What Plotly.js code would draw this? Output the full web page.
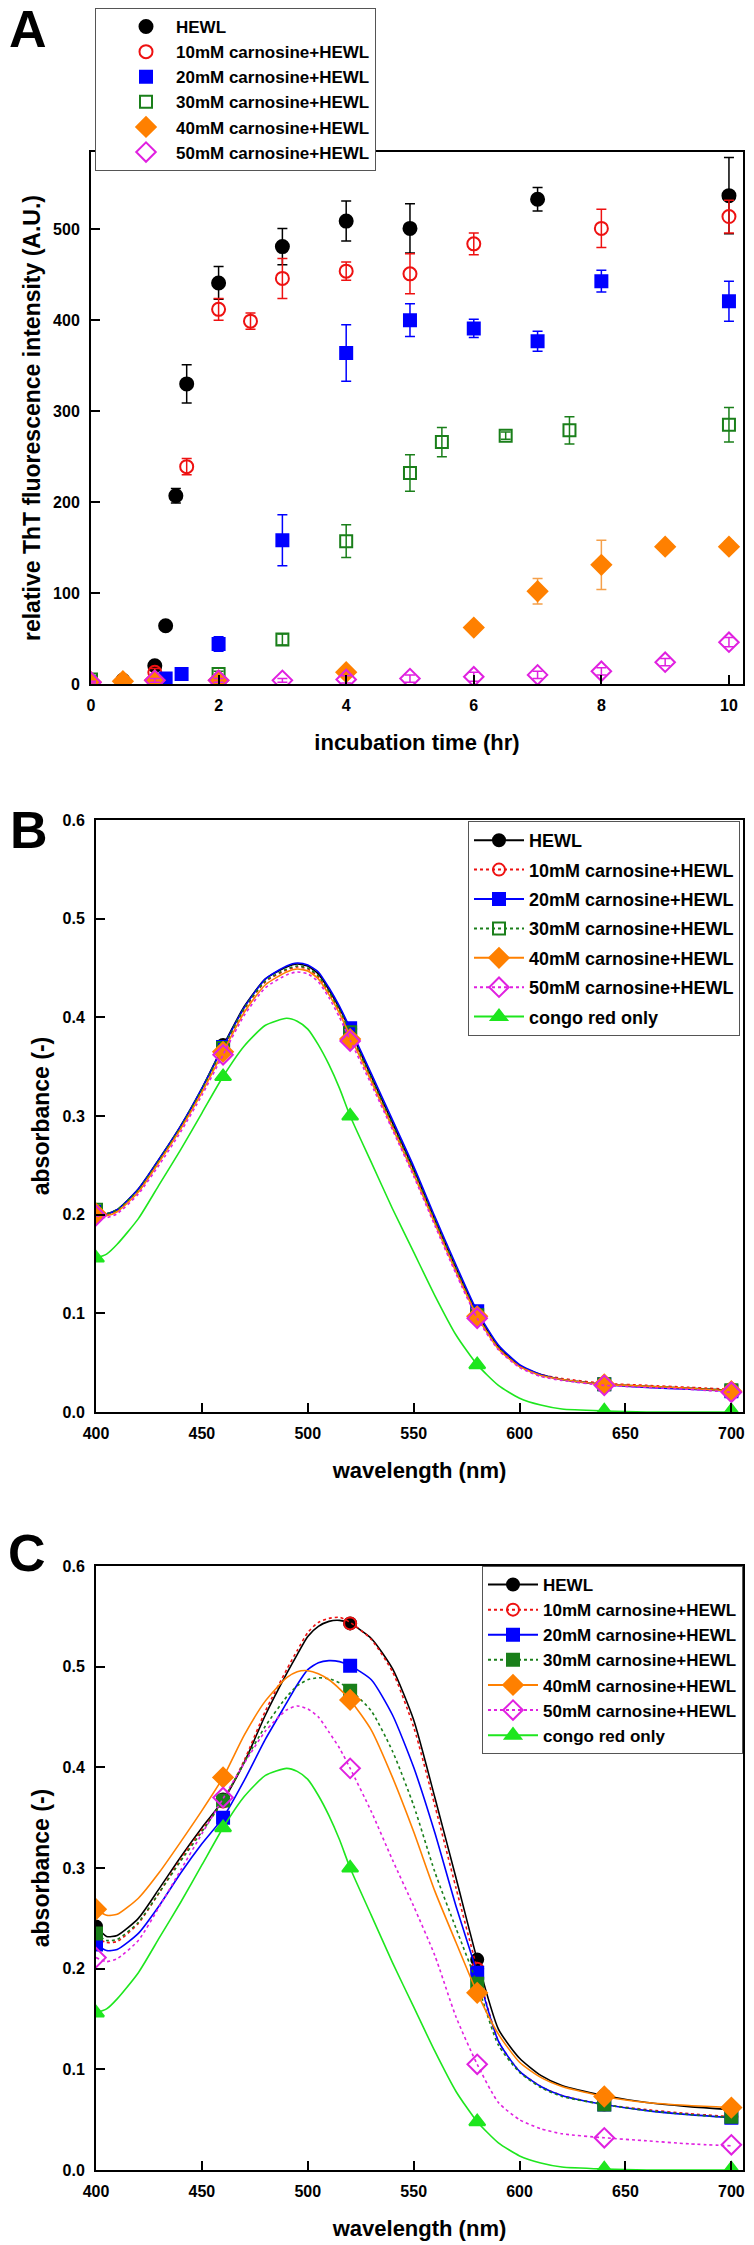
<!DOCTYPE html>
<html><head><meta charset="utf-8">
<script src="https://cdn.plot.ly/plotly-3.0.1.min.js"></script>
<style>html,body{margin:0;padding:0;background:#fff}#chart{width:754px;height:2245px}</style>
</head><body><div id="chart"></div>
<script>
// ================= DATA =================
const seriesNames = ['HEWL','10mM carnosine+HEWL','20mM carnosine+HEWL','30mM carnosine+HEWL','40mM carnosine+HEWL','50mM carnosine+HEWL','congo red only'];

// ---- Panel A: ThT fluorescence vs incubation time ----
const tHEWL = [0, 0.5, 1, 1.17, 1.33, 1.5, 2, 3, 4, 5, 7, 10];
const thtHEWL = [2, 4, 20, 64, 207, 330, 441, 481, 509, 501, 533, 537];
const errHEWL = [1, 2, 3, 3, 8, 21, 18, 20, 22, 27, 13, 42];

const t10 = [0, 0.5, 1, 1.5, 2, 2.5, 3, 4, 5, 6, 8, 10];
const tht10 = [2, 3, 13, 239, 412, 399, 446, 454, 451, 484, 501, 514];
const err10 = [1, 1, 4, 9, 12, 9, 22, 10, 22, 12, 21, 18];

const t20 = [0, 1.17, 1.42, 2, 3, 4, 5, 6, 7, 8, 10];
const tht20 = [2, 6, 11, 44, 158, 364, 400, 391, 377, 443, 421];
const err20 = [1, 2, 2, 8, 28, 31, 18, 10, 11, 12, 22];

const t30 = [0, 2, 3, 4, 5, 5.5, 6.5, 7.5, 10];
const tht30 = [5, 11, 49, 157, 232, 266, 273, 279, 285];
const err30 = [2, 3, 6, 18, 20, 16, 4, 15, 19];

const t40 = [0, 0.5, 1, 2, 4, 6, 7, 8, 9, 10];
const tht40 = [2, 3, 4, 4, 13, 62, 102, 131, 151, 151];
const err40 = [1, 2, 2, 2, 3, 5, 14, 27, 5, 6];

const t50 = [0, 1, 2, 3, 4, 5, 6, 7, 8, 9, 10];
const tht50 = [2, 4, 4, 4, 5, 6, 8, 10, 14, 24, 46];
const err50 = [1, 2, 2, 2, 4, 4, 5, 4, 4, 4, 5];

// ---- Panels B & C: absorbance spectra ----
const wlMarks = [400, 460, 520, 580, 640, 700];
const wlCurve = [400, 405, 410, 420, 430, 440, 450, 460, 470, 480, 490, 495, 500, 505, 510, 515, 520, 530, 540, 550, 560, 570, 580, 590, 600, 610, 620, 640, 660, 680, 700];

// Panel B curves
const bHEWL = [.203,.201,.205,.226,.257,.290,.328,.371,.411,.439,.451,.454,.452,.444,.428,.409,.387,.340,.293,.246,.195,.146,.100,.066,.047,.038,.033,.028,.026,.024,.022];
const b10   = [.202,.200,.204,.225,.255,.288,.326,.368,.408,.436,.448,.451,.449,.441,.425,.406,.384,.337,.290,.243,.193,.144,.098,.065,.047,.038,.034,.029,.027,.025,.023];
const b20   = [.203,.201,.205,.226,.257,.290,.328,.370,.410,.439,.452,.455,.453,.446,.430,.411,.389,.343,.296,.249,.198,.149,.102,.068,.048,.038,.033,.028,.025,.023,.021];
const b30   = [.204,.201,.205,.225,.256,.289,.327,.369,.409,.437,.449,.452,.450,.442,.426,.407,.385,.338,.291,.244,.194,.145,.098,.065,.046,.037,.033,.028,.026,.024,.022];
const b40   = [.201,.199,.203,.223,.254,.287,.324,.365,.405,.433,.446,.449,.447,.439,.423,.404,.381,.335,.288,.241,.191,.142,.097,.064,.046,.037,.033,.028,.026,.024,.021];
const b50   = [.199,.197,.201,.221,.251,.284,.321,.362,.402,.430,.443,.446,.444,.436,.420,.400,.377,.332,.286,.239,.189,.140,.095,.063,.045,.036,.032,.027,.025,.023,.020];
const congo = [.156,.160,.170,.196,.231,.266,.303,.340,.371,.392,.399,.396,.388,.372,.352,.328,.300,.253,.206,.162,.118,.078,.048,.027,.014,.007,.003,.001,.000,.000,.000];

const bHEWLm = [.203,.372,.388,.100,.028,.022];
const b10m   = [.202,.368,.383,.098,.029,.023];
const b20m   = [.203,.370,.389,.102,.028,.021];
const b30m   = [.205,.369,.385,.098,.028,.022];
const b40m   = [.201,.365,.378,.097,.028,.021];
const b50m   = [.199,.362,.376,.095,.027,.020];
const congoM = [.156,.340,.300,.048,.001,.001];

// Panel C curves
const cHEWL = [.242,.232,.233,.250,.280,.311,.340,.367,.405,.452,.493,.512,.530,.540,.545,.546,.543,.528,.498,.447,.370,.290,.209,.140,.111,.094,.084,.074,.067,.063,.060];
const c10   = [.231,.226,.227,.245,.276,.309,.338,.366,.407,.456,.497,.516,.534,.544,.548,.549,.544,.527,.495,.440,.362,.280,.200,.128,.098,.083,.074,.065,.060,.056,.053];
const c20   = [.224,.218,.219,.235,.263,.295,.324,.350,.387,.428,.464,.482,.497,.504,.506,.505,.501,.487,.452,.400,.335,.262,.196,.128,.098,.083,.074,.065,.059,.055,.052];
const c30   = [.235,.228,.229,.246,.276,.307,.336,.367,.405,.441,.470,.481,.487,.489,.488,.484,.477,.456,.416,.362,.296,.240,.185,.124,.097,.082,.073,.065,.059,.055,.052];
const c40   = [.259,.253,.254,.270,.296,.326,.357,.390,.432,.466,.489,.495,.496,.493,.487,.478,.467,.437,.390,.336,.277,.226,.176,.135,.107,.092,.083,.073,.067,.064,.062];
const c50   = [.211,.207,.210,.228,.262,.298,.334,.369,.404,.436,.457,.461,.458,.450,.435,.419,.399,.356,.308,.262,.213,.152,.105,.067,.050,.041,.036,.032,.029,.026,.024];

const cHEWLm = [.242,.368,.543,.209,.074,.060];
const c10m   = [.231,.366,.543,.200,.065,.053];
const c20m   = [.224,.350,.501,.196,.065,.052];
const c30m   = [.235,.367,.476,.185,.065,.053];
const c40m   = [.259,.390,.467,.176,.073,.062];
const c50m   = [.211,.370,.399,.105,.032,.025];

// ================= STYLES =================
const FONT = 'Arial, "Liberation Sans", Helvetica, sans-serif';
const col = ['#000000', '#ee1111', '#0000ff', '#1a7f1a', '#ff8000', '#e020e0', '#1ee61e'];
const errCol = ['#000000', '#ee1111', '#0000ff', '#1a7f1a', '#f5a04a', '#e020e0'];
const dashes = ['solid', 'dot', 'solid', 'dot', 'solid', 'dot', 'solid'];

const traces = [];

// ---- Panel A traces ----
const aX = [tHEWL, t10, t20, t30, t40, t50];
const aY = [thtHEWL, tht10, tht20, tht30, tht40, tht50];
const aE = [errHEWL, err10, err20, err30, err40, err50];
const aSym = ['circle', 'circle-open', 'square', 'square-open', 'diamond', 'diamond-open'];
const aSize = [13, 13, 12, 12, 15, 15];
for (let i = 0; i < 6; i++) {
  traces.push({
    type: 'scatter', mode: 'markers', name: seriesNames[i],
    x: aX[i], y: aY[i], xaxis: 'x', yaxis: 'y', legend: 'legend',
    marker: {symbol: aSym[i], size: aSize[i], color: col[i], line: {color: col[i], width: 2}},
    error_y: {type: 'data', array: aE[i], visible: true, color: errCol[i], thickness: 1.5, width: 5}
  });
}

// ---- Panels B & C traces ----
function spectra(curves, marks, syms, xa, ya, lg) {
  for (let i = 0; i < 7; i++) {
    const mk = {symbol: syms[i], size: (syms[i].indexOf('diamond') === 0 ? 15 : (syms[i].indexOf('triangle') === 0 ? 14 : 12)), color: col[i], line: {color: col[i], width: 2}};
    traces.push({type: 'scatter', mode: 'lines', x: wlCurve, y: curves[i], xaxis: xa, yaxis: ya,
      line: {color: col[i], width: 1.6, dash: dashes[i], shape: 'spline', smoothing: 0.6}, showlegend: false, hoverinfo: 'skip'});
    traces.push({type: 'scatter', mode: 'markers', x: wlMarks, y: marks[i], xaxis: xa, yaxis: ya,
      marker: mk, showlegend: false});
    traces.push({type: 'scatter', mode: 'lines+markers', name: seriesNames[i], x: [null], y: [null], xaxis: xa, yaxis: ya,
      legend: lg, legendgroup: lg + i, line: {color: col[i], width: 2, dash: dashes[i]}, marker: mk});
  }
}
spectra([bHEWL, b10, b20, b30, b40, b50, congo], [bHEWLm, b10m, b20m, b30m, b40m, b50m, congoM],
  ['circle', 'circle-open', 'square', 'square-open', 'diamond', 'diamond-open', 'triangle-up'], 'x2', 'y2', 'legend2');
spectra([cHEWL, c10, c20, c30, c40, c50, congo], [cHEWLm, c10m, c20m, c30m, c40m, c50m, congoM],
  ['circle', 'circle-open', 'square', 'square', 'diamond', 'diamond-open', 'triangle-up'], 'x3', 'y3', 'legend3');

// ================= LAYOUT =================
const W = 754, H = 2245;
const px = v => v / W;
const py = v => 1 - v / H;

function axisBase() {
  return {
    showgrid: false, zeroline: false, showline: true, linecolor: '#000', linewidth: 2, mirror: true,
    ticks: 'inside', ticklen: 9, tickwidth: 2, tickcolor: '#000',
    tickfont: {family: FONT, size: 16, color: '#000', weight: 'bold'},
    automargin: false
  };
}
function titleFont(s) { return {family: FONT, size: s, color: '#000', weight: 'bold'}; }

const xA = Object.assign(axisBase(), {domain: [px(91), px(743)], anchor: 'y', range: [0, 10.22], tickvals: [0, 2, 4, 6, 8, 10], ticklabelstandoff: 6,
  title: {text: 'incubation time (hr)', font: titleFont(22), standoff: 21}});
const yA = Object.assign(axisBase(), {domain: [py(684), py(152)], anchor: 'x', range: [0, 585], tickvals: [0, 100, 200, 300, 400, 500], ticklabelstandoff: 6,
  title: {text: 'relative ThT fluorescence intensity (A.U.)', font: titleFont(23), standoff: 6}});

function xSpec(anchor) {
  return Object.assign(axisBase(), {domain: [px(96), px(743)], anchor: anchor, range: [400, 705.5], tickvals: [400, 450, 500, 550, 600, 650, 700], ticklabelstandoff: 6,
    title: {text: 'wavelength (nm)', font: titleFont(22), standoff: 21}});
}
function ySpec(anchor, top, bottom) {
  return Object.assign(axisBase(), {domain: [py(bottom), py(top)], anchor: anchor, range: [0, 0.6], tickvals: [0, 0.1, 0.2, 0.3, 0.4, 0.5, 0.6], tickformat: '.1f', ticklabelstandoff: 6,
    title: {text: 'absorbance (-)', font: titleFont(23), standoff: 6}});
}

function legendSpec(x, y, xanchor, size, gap) {
  return {x: x, y: y, xanchor: xanchor, yanchor: 'top', bgcolor: '#fff', bordercolor: '#555', borderwidth: 1,
    font: {family: FONT, size: size, color: '#000', weight: 'bold'}, tracegroupgap: gap, itemwidth: 50};
}

const layout = {
  width: W, height: H, margin: {l: 0, r: 0, t: 0, b: 0},
  paper_bgcolor: '#fff', plot_bgcolor: '#fff', showlegend: true,
  xaxis: xA, yaxis: yA,
  xaxis2: xSpec('y2'), yaxis2: ySpec('x2', 820, 1412),
  xaxis3: xSpec('y3'), yaxis3: ySpec('x3', 1566, 2170),
  legend: Object.assign(legendSpec(px(95), py(8), 'left', 17, 2), {indentation: 20}),
  legend2: legendSpec(px(740), py(821), 'right', 18, 3),
  legend3: legendSpec(px(743), py(1566), 'right', 17, 0),
  annotations: [
    {text: 'A', x: px(7), y: py(29), xref: 'paper', yref: 'paper', xanchor: 'left', yanchor: 'middle', showarrow: false, font: {family: FONT, size: 52, color: '#000', weight: 'bold'}},
    {text: 'B', x: px(8), y: py(830), xref: 'paper', yref: 'paper', xanchor: 'left', yanchor: 'middle', showarrow: false, font: {family: FONT, size: 52, color: '#000', weight: 'bold'}},
    {text: 'C', x: px(6), y: py(1553), xref: 'paper', yref: 'paper', xanchor: 'left', yanchor: 'middle', showarrow: false, font: {family: FONT, size: 52, color: '#000', weight: 'bold'}}
  ]
};

Plotly.newPlot('chart', traces, layout, {staticPlot: true, displayModeBar: false});
</script>
</body></html>
